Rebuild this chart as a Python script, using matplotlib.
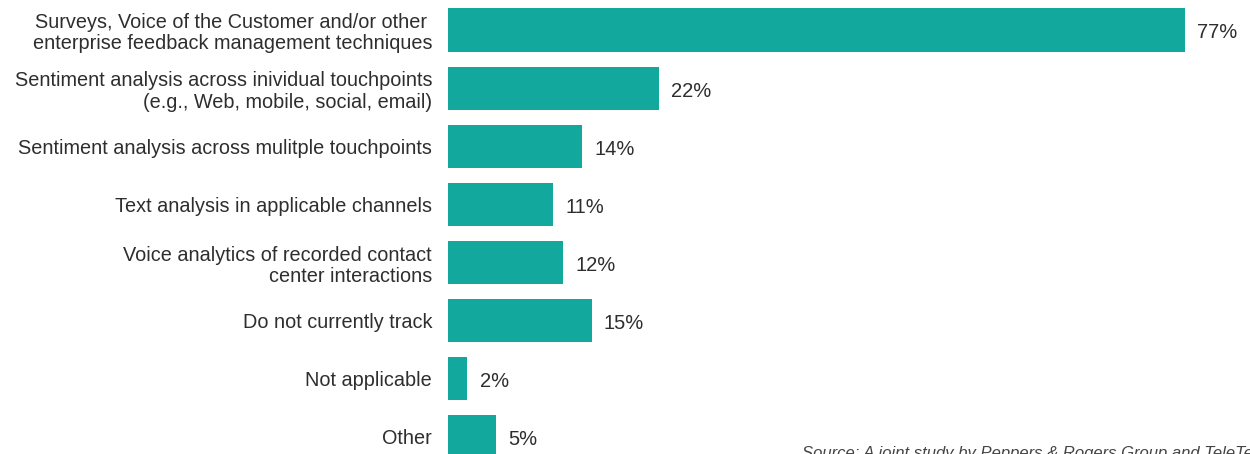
import matplotlib
matplotlib.use("Agg")
import matplotlib.pyplot as plt

# Methods used to track customer sentiment (% of respondents)
CATEGORIES = [
    "Surveys, Voice of the Customer and/or other \nenterprise feedback management techniques",
    "Sentiment analysis across inividual touchpoints\n(e.g., Web, mobile, social, email)",
    "Sentiment analysis across mulitple touchpoints",
    "Text analysis in applicable channels",
    "Voice analytics of recorded contact\ncenter interactions",
    "Do not currently track",
    "Not applicable",
    "Other",
]
VALUES = [77, 22, 14, 11, 12, 15, 2, 5]
SOURCE = "Source: A joint study by Peppers & Rogers Group and TeleTech"

BAR_COLOR = "#13A89E"
TEXT_COLOR = "#2E2E2E"

plt.rcParams["font.family"] = ["Liberation Sans", "DejaVu Sans"]

fig = plt.figure(figsize=(12.5, 4.54), dpi=100)
ax = fig.add_axes([448 / 1250, 0.0, 1 - 448 / 1250, 1.0])

ypos = list(range(len(VALUES)))
ax.barh(ypos, VALUES, height=0.74, color=BAR_COLOR)

for y, v in zip(ypos, VALUES):
    ax.text(v + 1.3, y + 0.05, f"{v}%", va="center", ha="left",
            fontsize=14.5, color=TEXT_COLOR)

ax.set_xlim(0, (1250 - 448) / 9.57)
ax.set_ylim(7.293, -0.516)
ax.set_yticks(ypos)
ax.set_yticklabels(CATEGORIES, fontsize=14.3, color=TEXT_COLOR,
                   linespacing=1.16, ha="right")
ax.tick_params(axis="y", length=0, pad=11.5)
ax.set_xticks([])
for s in ax.spines.values():
    s.set_visible(False)

fig.text(802 / 1250, 1 - 446 / 454, SOURCE, ha="left", va="top",
         fontsize=12, style="italic", color="#444444")

fig.savefig("out.png", dpi=100)
